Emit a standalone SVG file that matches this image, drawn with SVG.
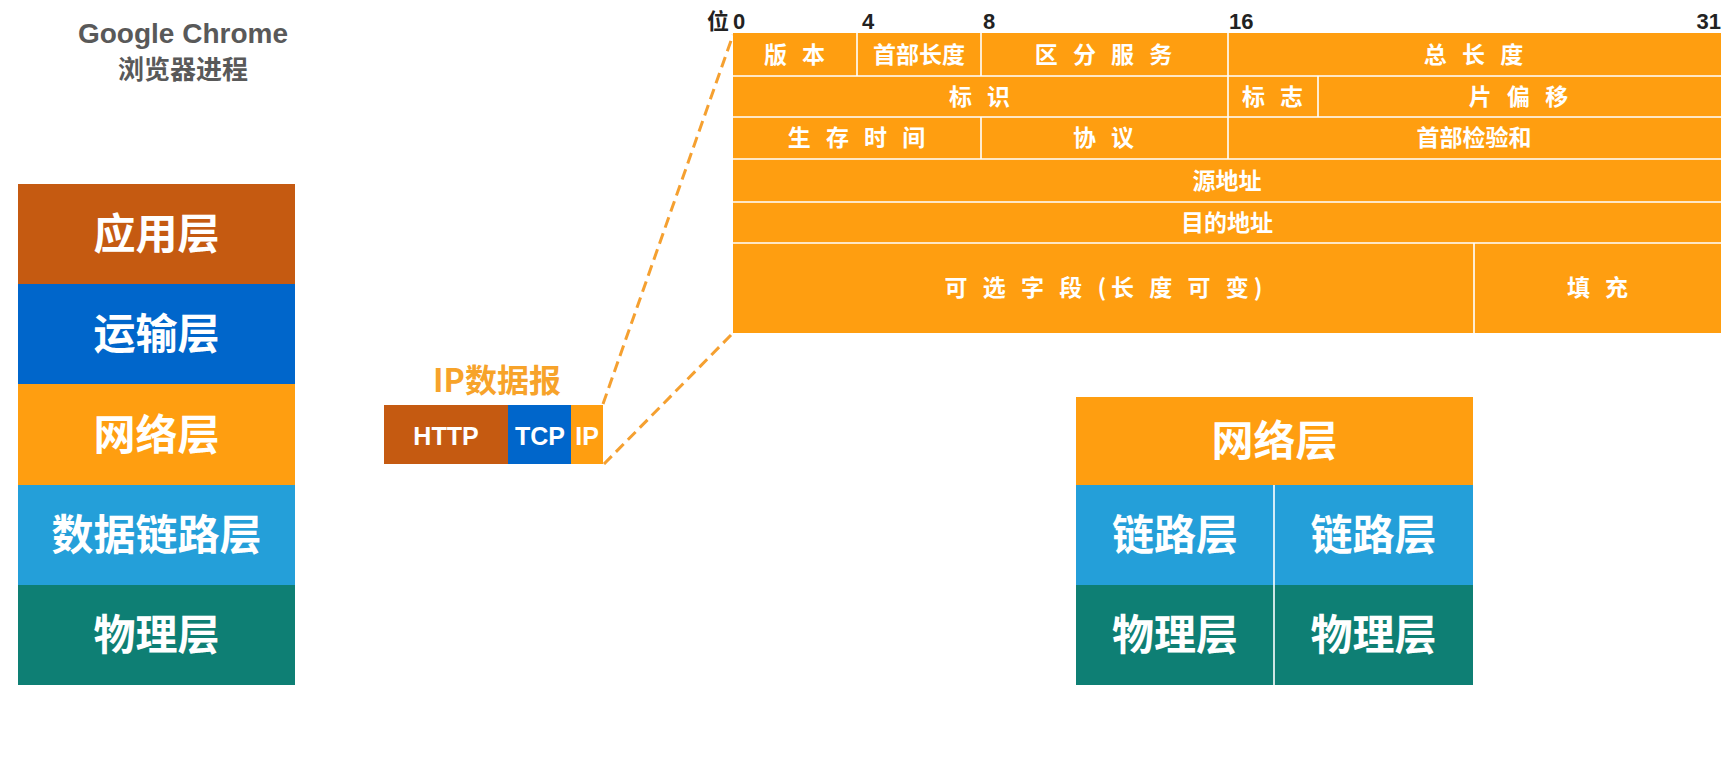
<svg xmlns="http://www.w3.org/2000/svg" width="1728" height="758" viewBox="0 0 1728 758">
<style>
.cjk{font-family:"Noto Sans CJK SC","Liberation Sans",sans-serif;font-weight:bold;}
.lat{font-family:"Liberation Sans","Noto Sans CJK SC",sans-serif;font-weight:bold;}
.layer{font-size:42px;fill:#fff;text-anchor:middle;}
.fld{font-size:23px;fill:#fff;text-anchor:middle;}
.sp{letter-spacing:5px;}
.bit{font-size:22px;fill:#222;}
.sep{stroke:#fff;stroke-width:1.6;fill:none;}
.dash{stroke:#F5A030;stroke-width:3;stroke-dasharray:11 6;fill:none;}
.brown{fill:#C55A11;}
.blue{fill:#0066CB;}
.orange{fill:#FF9E10;}
.lblue{fill:#249FD9;}
.teal{fill:#0E7F74;}
</style>
<rect width="1728" height="758" fill="#fff"/>

<g id="title">
<text class="lat" x="183" y="43" font-size="28" fill="#595959" text-anchor="middle">Google Chrome</text>
<text class="cjk" x="183" y="79" font-size="26" fill="#595959" text-anchor="middle">浏览器进程</text>
</g>

<g id="stack-left">
<g id="app-layer"><rect class="brown" x="18" y="184" width="277" height="100"/><text class="cjk layer" x="156.5" y="249">应用层</text></g>
<g id="transport-layer"><rect class="blue" x="18" y="284" width="277" height="100"/><text class="cjk layer" x="156.5" y="349">运输层</text></g>
<g id="network-layer"><rect class="orange" x="18" y="384" width="277" height="101"/><text class="cjk layer" x="156.5" y="450">网络层</text></g>
<g id="datalink-layer"><rect class="lblue" x="18" y="485" width="277" height="100"/><text class="cjk layer" x="156.5" y="550">数据链路层</text></g>
<g id="physical-layer"><rect class="teal" x="18" y="585" width="277" height="100"/><text class="cjk layer" x="156.5" y="650">物理层</text></g>
</g>

<g id="ip-datagram">
<text class="cjk" x="497" y="392" font-size="32" fill="#F7A32A" text-anchor="middle">IP数据报</text>
<g id="http-seg"><rect class="brown" x="384" y="405" width="124" height="59"/><text class="lat" x="446" y="445" font-size="25" fill="#fff" text-anchor="middle">HTTP</text></g>
<g id="tcp-seg"><rect class="blue" x="508" y="405" width="63" height="59"/><text class="lat" x="540" y="445" font-size="25" fill="#fff" text-anchor="middle">TCP</text></g>
<g id="ip-seg"><rect class="orange" x="571" y="405" width="32" height="59"/><text class="lat" x="587" y="445" font-size="25" fill="#fff" text-anchor="middle">IP</text></g>
</g>

<g id="connectors">
<line class="dash" x1="603" y1="404" x2="733" y2="35"/>
<line class="dash" x1="604" y1="464" x2="733" y2="333"/>
</g>

<g id="bit-ruler">
<text class="cjk bit"><tspan x="707" y="29">位</tspan><tspan class="lat" x="733" y="29">0</tspan></text>
<text class="lat bit" x="862" y="29">4</text>
<text class="lat bit" x="983" y="29">8</text>
<text class="lat bit" x="1229" y="29">16</text>
<text class="lat bit" x="1721" y="29" text-anchor="end">31</text>
</g>

<g id="ip-header">
<rect class="orange" x="733" y="33" width="988" height="300"/>
<path class="sep" d="M733 76H1721M733 117H1721M733 159H1721M733 202H1721M733 243H1721M857 33V76M981 33V76M1228 33V76M1228 76V117M1318 76V117M981 117V159M1228 117V159M1474 243V333"/>
<text class="cjk fld sp" x="797" y="63">版 本</text>
<text class="cjk fld" x="919" y="63">首部长度</text>
<text class="cjk fld sp" x="1106" y="63">区 分 服 务</text>
<text class="cjk fld sp" x="1476" y="63">总 长 度</text>
<text class="cjk fld sp" x="982" y="105">标 识</text>
<text class="cjk fld sp" x="1275" y="105">标 志</text>
<text class="cjk fld sp" x="1521" y="105">片 偏 移</text>
<text class="cjk fld sp" x="859" y="146">生 存 时 间</text>
<text class="cjk fld sp" x="1106" y="146">协 议</text>
<text class="cjk fld" x="1474" y="146">首部检验和</text>
<text class="cjk fld" x="1227" y="189">源地址</text>
<text class="cjk fld" x="1227" y="231">目的地址</text>
<text class="cjk fld sp" x="1106" y="296">可 选 字 段 (长 度 可 变)</text>
<text class="cjk fld sp" x="1600" y="296">填 充</text>
</g>

<g id="stack-right">
<g id="r-network"><rect class="orange" x="1076" y="397" width="397" height="88"/><text class="cjk layer" x="1274.5" y="456">网络层</text></g>
<g id="r-link-1"><rect class="lblue" x="1076" y="485" width="198" height="100"/><text class="cjk layer" x="1175" y="550">链路层</text></g>
<g id="r-link-2"><rect class="lblue" x="1274" y="485" width="199" height="100"/><text class="cjk layer" x="1373.5" y="550">链路层</text></g>
<g id="r-phys-1"><rect class="teal" x="1076" y="585" width="198" height="100"/><text class="cjk layer" x="1175" y="650">物理层</text></g>
<g id="r-phys-2"><rect class="teal" x="1274" y="585" width="199" height="100"/><text class="cjk layer" x="1373.5" y="650">物理层</text></g>
<line class="sep" x1="1274" y1="485" x2="1274" y2="685" stroke-width="3"/>
</g>
</svg>
